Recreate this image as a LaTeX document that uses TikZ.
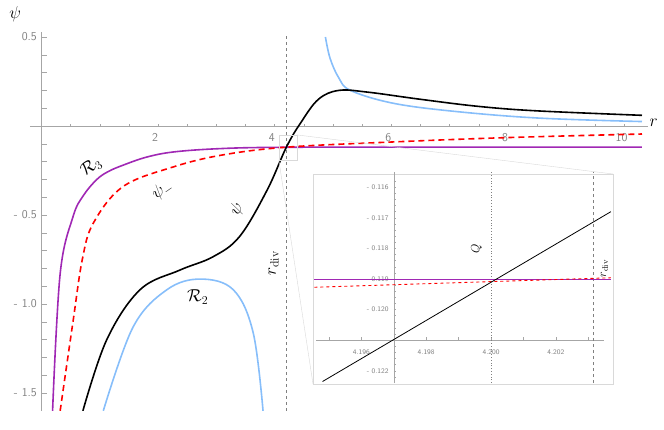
\documentclass[tikz,border=0pt]{standalone}
\usepackage{amsmath}
\begin{document}
\begin{tikzpicture}[x=1pt,y=1pt,
  ax/.style={gray!70,line width=0.5pt},
  tk/.style={gray,font=\sffamily\large},
  tks/.style={gray,font=\sffamily\scriptsize},
  purp/.style={color={rgb,255:red,160;green,40;blue,180},line width=1.6pt},
  redd/.style={red,line width=1.6pt,dash pattern=on 6pt off 4pt},
  blk/.style={black,line width=1.6pt},
  blu/.style={color={rgb,255:red,135;green,190;blue,250},line width=1.6pt}]
\useasboundingbox (0,0) rectangle (664,429);
\begin{scope}
\clip (0,19) rectangle (664,429);
\begin{scope}[shift={(41.5,303)},x=58.3pt,y=178pt]
 % axes
 \draw[ax] (-0.2,0) -- (10.4,0);
 \draw[ax] (0,-1.6) -- (0,0.53);
 \foreach \i in {1,...,20} \draw[ax] (\i*0.5,0) -- (\i*0.5,0.012);
 \foreach \i in {-15,...,5} \draw[ax] (0,\i*0.1) -- (0.1,\i*0.1);
 \foreach \v in {2,4,6,8,10} \node[tk] (xl\v) at (\v-0.05,-0.065) {\v};
 \node[tk,anchor=east] (y1) at (-0.02,0.5) {0.5};
 \node[tk,anchor=east] (y2) at (-0.02,-0.5) {- 0.5};
 \node[tk,anchor=east] (y3) at (-0.02,-1.0) {- 1.0};
 \node[tk,anchor=east] (y4) at (-0.02,-1.5) {- 1.5};
 \node (rl) at (10.5,0.02) {\LARGE$r$};
 \node (psil) at (-0.45,0.63) {\LARGE$\psi$};
 % rdiv
 \draw[gray,dashed,line width=1pt] (4.2,-1.6) -- (4.2,0.52);
 % curves
 \draw[blu] plot[smooth,tension=0.6] coordinates {(4.87,0.5) (4.95,0.38) (5.1,0.27) (5.3,0.2) (6,0.13) (7,0.085) (8.5,0.045) (10.3,0.025)};
 \draw[blu] plot[smooth,tension=0.6] coordinates {(1.06,-1.6) (1.57,-1.13) (2.15,-0.92) (2.72,-0.86) (3.29,-0.92) (3.63,-1.16) (3.8,-1.6)};
 \draw[purp] plot[smooth,tension=0.6] coordinates {(0.19,-1.6) (0.32,-0.83) (0.54,-0.51) (0.72,-0.39) (0.95,-0.30) (1.15,-0.255) (1.4,-0.22) (1.8,-0.175) (2.26,-0.146) (3,-0.128) (3.97,-0.12) (6,-0.119) (10.3,-0.119)};
 \draw[redd] plot[smooth,tension=0.6] coordinates {(0.32,-1.6) (0.54,-1.1) (0.7,-0.75) (0.89,-0.545) (1.4,-0.34) (2.26,-0.23) (3.1,-0.163) (4.2,-0.119) (6,-0.09) (8,-0.065) (10.3,-0.045)};
 \draw[blk] plot[smooth,tension=0.6] coordinates {(0.71,-1.6) (1.12,-1.2) (1.69,-0.92) (2.37,-0.81) (2.94,-0.735) (3.4,-0.62) (3.87,-0.36) (4.2,-0.119) (4.45,0.02) (4.75,0.15) (5.1,0.2) (5.6,0.19) (6.5,0.15) (7.5,0.11) (8.5,0.085) (10.3,0.06)};
 % labels
 \node[rotate=35] (R3) at (0.85,-0.23) {\LARGE$\mathcal{R}_3$};
 \node[rotate=35] (pm) at (2.07,-0.36) {\LARGE$\psi_-$};
 \node[rotate=60] (ps) at (3.35,-0.47) {\LARGE$\psi$};
 \node[rotate=90] (rd) at (3.98,-0.77) {\LARGE$r_{\mathrm{div}}$};
 \node (R2) at (2.68,-0.96) {\LARGE$\mathcal{R}_2$};
 % zoom box
 \draw[gray!30] (4.07,-0.05) rectangle (4.38,-0.19);
 \coordinate (sbl) at (4.07,-0.19);
 \coordinate (str) at (4.38,-0.05);
\end{scope}
\end{scope}
% inset
\fill[white] (313,45) rectangle (613,255);
\draw[gray!30,line width=0.8pt] (313,45) rectangle (613,255);
\coordinate (bbl) at (313,45);
\coordinate (btr) at (613,255);
\draw[gray!30] (sbl) -- (bbl);
\draw[gray!30] (str) -- (btr);
\begin{scope}[shift={(491,150)},x=32.4pt,y=30.6pt]
 \draw[ax] (-5.4,-2) -- (3.5,-2);
 \draw[ax] (-3,-3.4) -- (-3,3.5);
 \foreach \i in {-5,...,3} \draw[ax] (\i,-2) -- (\i,-1.88);
 \foreach \i in {-16,...,16} \draw[ax] (-3,\i*0.2) -- (-2.92,\i*0.2);
 \foreach \v/\t in {-4/4.196,-2/4.198,0/4.200,2/4.202} \node[tks] (ix\t) at (\v,-2.4) {\t};
 \foreach \v/\t in {3/0.116,2/0.117,1/0.118,0/0.119,-1/0.120,-3/0.122} \node[tks,anchor=east] (iy\v) at (-3.05,\v) {- \t};
 \draw[gray,dotted,line width=0.8pt] (0,-3.4) -- (0,3.5);
 \draw[gray,dashed,line width=0.6pt] (3.15,-3.4) -- (3.15,3.5);
 \draw[color={rgb,255:red,160;green,40;blue,180},line width=0.9pt] (-5.45,-0.02) -- (3.7,-0.02);
 \draw[red,dashed,line width=0.9pt] (-5.45,-0.27) -- (3.7,0.04);
 \draw[black,line width=0.8pt] (-5.2,-3.35) -- (3.7,2.2);
 \node[rotate=90] (Q) at (-0.45,1.0) {\large$Q$};
 \node[rotate=90] (ird) at (3.5,0.35) {\large$r_{\mathrm{div}}$};
\end{scope}
\end{tikzpicture}
\end{document}
